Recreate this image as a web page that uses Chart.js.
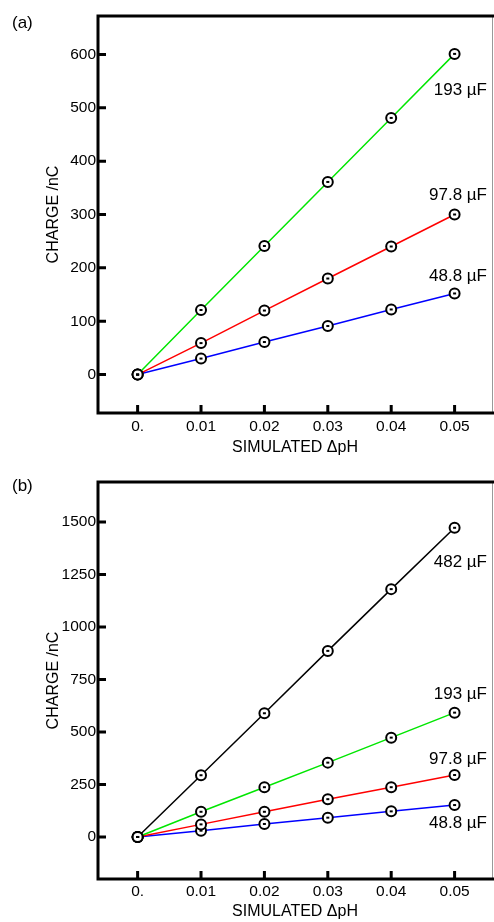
<!DOCTYPE html>
<html>
<head>
<meta charset="utf-8">
<script src="https://cdn.jsdelivr.net/npm/chart.js@4.4.0/dist/chart.umd.min.js"></script>
<style>
  html, body { margin: 0; padding: 0; background: #fff; }
  body { width: 494px; height: 922px; position: relative; overflow: hidden; font-family: 'Liberation Sans', Arial, sans-serif; }
  .panel { position: absolute; left: 0; width: 494px; }
  .tag { position: absolute; left: 12px; font-size: 17px; color: #000; }
</style>
</head>
<body>
<div class="panel" style="top:0;height:462px"><canvas id="chartA"></canvas></div>
<div class="panel" style="top:462px;height:460px"><canvas id="chartB"></canvas></div>
<div class="tag" style="top:13px">(a)</div>
<div class="tag" style="top:476px">(b)</div>
<script>
// valores
const xValues = [0, 0.01, 0.02, 0.03, 0.04, 0.05];
const xTickLabels = ['0.', '0.01', '0.02', '0.03', '0.04', '0.05'];
const seriesNames = ['482 µF', '193 µF', '97.8 µF', '48.8 µF'];

// panel (a)
const aCharge193 = [0, 121, 241, 361, 481, 601];
const aCharge97 = [0, 59, 120, 180, 240, 300];
const aCharge48 = [0, 30, 61, 91, 122, 152];
const aYTicks = [0, 100, 200, 300, 400, 500, 600];

// panel (b)
const bCharge482 = [0, 294, 589, 886, 1180, 1472];
const bCharge193 = [0, 120, 237, 354, 473, 592];
const bCharge97 = [0, 60, 120, 180, 237, 295];
const bCharge48 = [0, 30, 62, 92, 122, 152];
const bYTicks = [0, 250, 500, 750, 1000, 1250, 1500];

const FONT = "'Liberation Sans', Arial, sans-serif";

function serie(nombre, valores, color, offset) {
  return {
    label: nombre,
    data: xValues.map((x, i) => ({ x: x, y: valores[i] })),
    borderColor: color,
    borderWidth: 1.5,
    tension: 0,
    fill: false,
    pointRadius: 5,
    pointBorderWidth: 2,
    pointBorderColor: '#000',
    pointBackgroundColor: '#fff',
    labelOffset: offset
  };
}

// marco, marcas interiores, punto central y etiquetas de cada serie
const marcoPlugin = {
  id: 'marco',
  afterDatasetsDraw(chart) {
    const ctx = chart.ctx;
    const right = chart.chartArea.right;
    chart.data.datasets.forEach((ds, i) => {
      const meta = chart.getDatasetMeta(i);
      ctx.save();
      ctx.fillStyle = '#000';
      meta.data.forEach(pt => ctx.fillRect(pt.x - 1.5, pt.y - 1, 3, 2));
      const last = meta.data[meta.data.length - 1];
      ctx.font = '17px ' + FONT;
      ctx.textAlign = 'right';
      ctx.textBaseline = 'middle';
      ctx.fillText(ds.label, right - 5, last.y + ds.labelOffset);
      ctx.restore();
    });
  },
  afterDraw(chart) {
    const ctx = chart.ctx;
    const { left, right, top, bottom } = chart.chartArea;
    ctx.save();
    ctx.strokeStyle = '#999';
    ctx.lineWidth = 1;
    ctx.beginPath();
    ctx.moveTo(right + 0.5, top);
    ctx.lineTo(right + 0.5, bottom);
    ctx.stroke();

    ctx.strokeStyle = '#000';
    ctx.lineWidth = 3;
    ctx.beginPath();
    ctx.moveTo(left, bottom);
    ctx.lineTo(right + 2, bottom);
    ctx.moveTo(left, bottom + 1.5);
    ctx.lineTo(left, top - 1.5);
    ctx.moveTo(left, top);
    ctx.lineTo(right + 2, top);
    ctx.stroke();

    const xs = chart.scales.x, ys = chart.scales.y;
    ctx.beginPath();
    xs.ticks.forEach(t => {
      const px = xs.getPixelForValue(t.value);
      ctx.moveTo(px, bottom);
      ctx.lineTo(px, bottom - 8);
    });
    ys.ticks.forEach(t => {
      const py = ys.getPixelForValue(t.value);
      ctx.moveTo(left, py);
      ctx.lineTo(left + 8, py);
    });
    ctx.stroke();
    ctx.restore();
  }
};

function crearGrafico(id, datasets, yTicks, yMin, yMax, padTop, xAltura, xTickPad, xTituloPad) {
  const canvas = document.getElementById(id);
  return new Chart(canvas.getContext('2d'), {
    type: 'line',
    data: { datasets: datasets },
    options: {
      responsive: true,
      maintainAspectRatio: false,
      animation: false,
      layout: { autoPadding: false, padding: { top: padTop, right: 2, left: 0, bottom: 0 } },
      plugins: { legend: { display: false }, tooltip: { enabled: false } },
      scales: {
        x: {
          type: 'linear',
          min: -0.00625,
          max: 0.0559,
          grid: { display: false, drawTicks: false },
          border: { display: false },
          afterBuildTicks: s => { s.ticks = xValues.map(v => ({ value: v })); },
          afterFit: s => { s.height = xAltura; },
          ticks: {
            padding: xTickPad,
            color: '#000',
            font: { family: FONT, size: 15.5 },
            callback: (v, i) => xTickLabels[i]
          },
          title: {
            display: true,
            text: 'SIMULATED ΔpH',
            color: '#000',
            font: { family: FONT, size: 16 },
            padding: { top: 0, bottom: xTituloPad }
          }
        },
        y: {
          min: yMin,
          max: yMax,
          grid: { display: false, drawTicks: false },
          border: { display: false },
          afterBuildTicks: s => { s.ticks = yTicks.map(v => ({ value: v })); },
          afterFit: s => { s.width = 98; },
          ticks: {
            padding: 2,
            color: '#000',
            font: { family: FONT, size: 15.5 },
            callback: v => String(v)
          },
          title: {
            display: true,
            text: 'CHARGE /nC',
            color: '#000',
            font: { family: FONT, size: 16 },
            padding: { top: 44, bottom: 0 }
          }
        }
      }
    },
    plugins: [marcoPlugin]
  });
}

crearGrafico('chartA', [
  serie(seriesNames[1], aCharge193, '#00e600', 36),
  serie(seriesNames[2], aCharge97, '#ff0000', -19),
  serie(seriesNames[3], aCharge48, '#0000ff', -17)
], aYTicks, -72, 672, 16, 49, 4, 4.4);

crearGrafico('chartB', [
  serie(seriesNames[0], bCharge482, '#000000', 35),
  serie(seriesNames[1], bCharge193, '#00e600', -18),
  serie(seriesNames[2], bCharge97, '#ff0000', -16),
  serie(seriesNames[3], bCharge48, '#0000ff', 18)
], bYTicks, -200, 1690, 20, 43, 3, 0.7);
</script>
</body>
</html>
